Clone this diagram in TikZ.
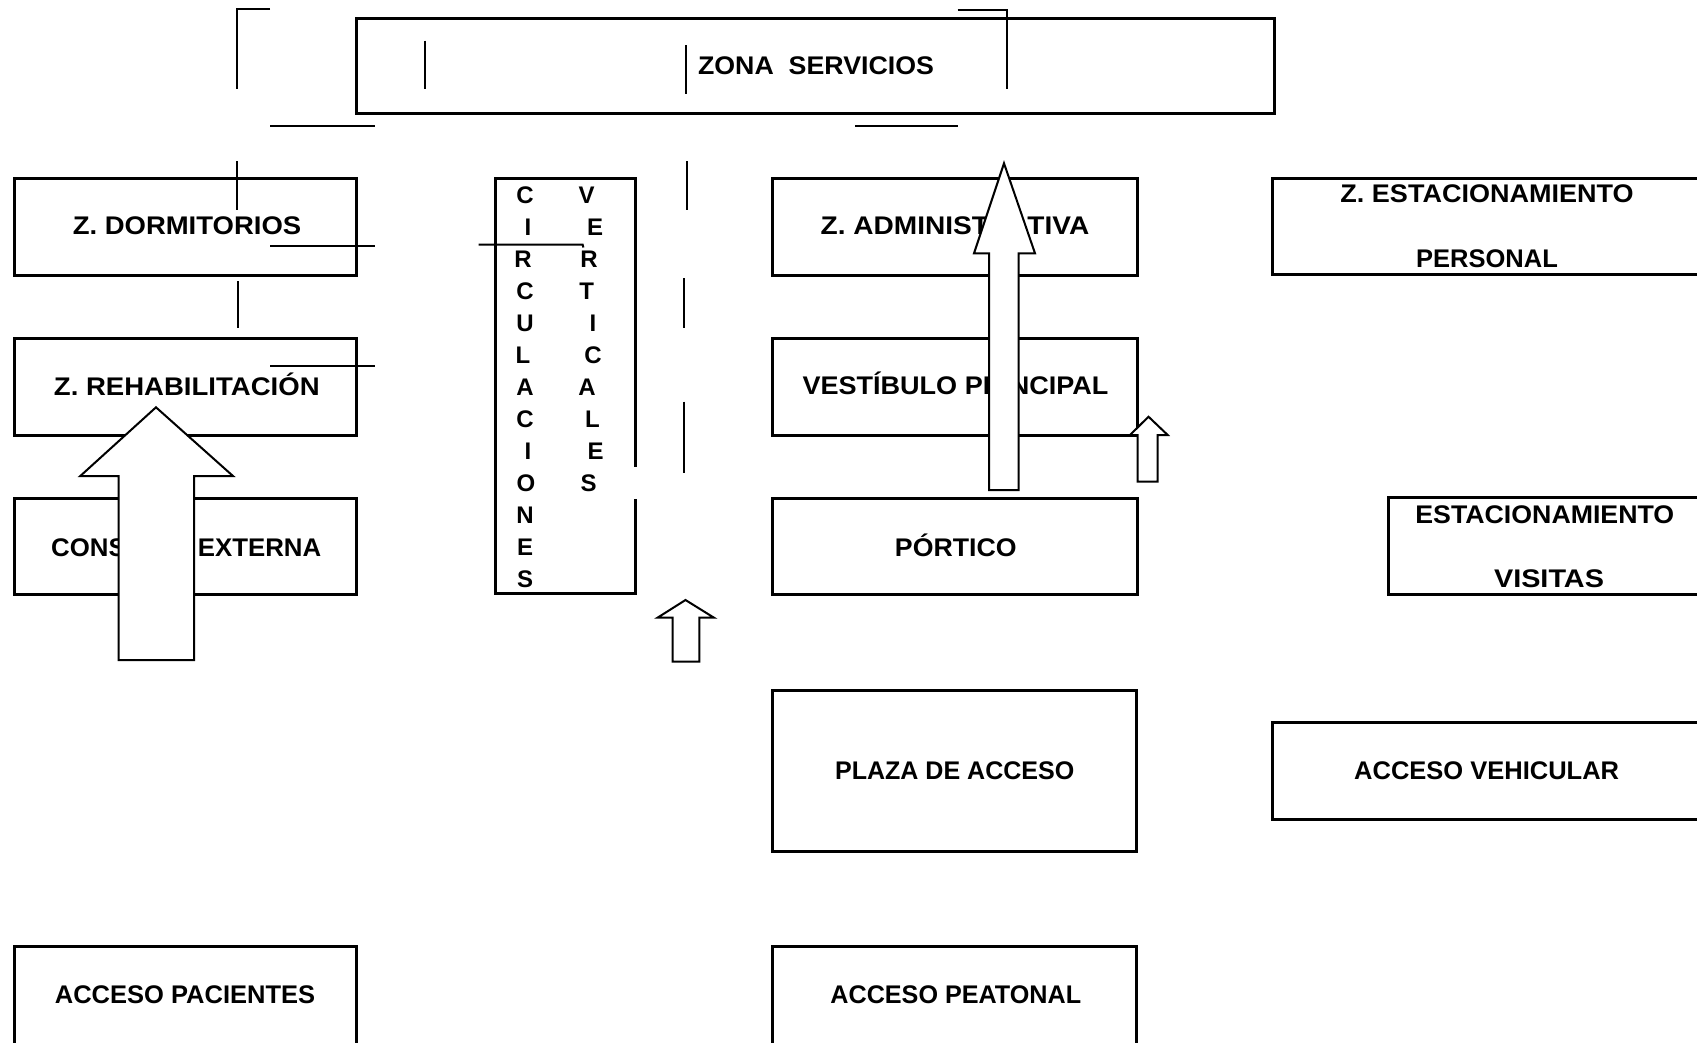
\documentclass[tikz,border=0pt]{standalone}
\usepackage{fontspec}
\setmainfont{Liberation Sans}
\newcommand{\wx}[2]{\scalebox{#1}[1]{#2}}
\begin{document}
\begin{tikzpicture}[x=1pt,y=-1pt,
  box/.style={draw, line width=3pt, anchor=north west, inner sep=0pt, outer sep=0pt},
  lbl/.style={font=\fontsize{25.5}{30}\selectfont\bfseries, inner sep=0pt, text height=18.3pt, text depth=0pt},
  clet/.style={font=\fontsize{24}{28}\selectfont\bfseries, inner sep=0pt, text height=17.2pt, text depth=0pt},
  tick/.style={line width=2pt},
  blockarrow/.style={draw, line width=2pt, fill=white, line join=miter}]
\useasboundingbox (0,0) rectangle (1697,1042);
\clip (0,0) rectangle (1697,1042);

% boxes
\node[box, minimum width=918pt, minimum height=95pt] (zona) at (356,18.5) {};
\node[box, minimum width=341.8pt, minimum height=96.7pt] (dorm) at (14.7,178.3) {};
\node[box, minimum width=341.8pt, minimum height=96.5pt] (rehab) at (14.7,338.5) {};
\node[box, minimum width=341.8pt, minimum height=96pt] (cons) at (14.7,498.5) {};
\node[box, minimum width=341.8pt, minimum height=120pt] (pac) at (14.7,946.7) {};
\node[box, minimum width=365pt, minimum height=96.7pt] (admin) at (772,178.3) {};
\node[box, minimum width=365pt, minimum height=96.7pt] (vest) at (772,338.3) {};
\node[box, minimum width=365pt, minimum height=96pt] (port) at (772,498.3) {};
\node[box, minimum width=364pt, minimum height=161pt] (plaza) at (772.5,690.7) {};
\node[box, minimum width=364pt, minimum height=120pt] (peat) at (772.5,946.7) {};
\node[box, minimum width=450pt, minimum height=95.7pt] (estp) at (1272.8,178.3) {};
\node[box, minimum width=340pt, minimum height=96.6pt] (estv) at (1388,497.7) {};
\node[box, minimum width=450pt, minimum height=96.7pt] (veh) at (1272.3,722.3) {};

% circulation box (open on the right)
\node[inner sep=0pt, minimum width=139.6pt, minimum height=415.2pt, anchor=north west] (circ) at (495.4,178.3) {};
\draw[line width=3pt] (635,466.7) -- (635,178.3) -- (495.4,178.3) -- (495.4,593.5) -- (635,593.5) -- (635,499.3);

% labels
\node[lbl] (tzona) at (816,65.8) {\wx{1.049}{ZONA\ \ SERVICIOS}};
\node[lbl] (tdorm) at (187,225.8) {\wx{1.077}{Z. DORMITORIOS}};
\node[lbl] (trehab) at (186.8,386.7) {\wx{1.08}{Z. REHABILITACIÓN}};
\node[lbl] (tcons) at (186.2,547.2) {\wx{1.012}{CONSULTA EXTERNA}};
\node[lbl] (tpac) at (185,994.2) {ACCESO PACIENTES};
\node[lbl] (tadmin) at (955,225.8) {\wx{1.10}{Z. ADMINISTRATIVA}};
\node[lbl] (tvest) at (955.5,385.8) {\wx{1.06}{VESTÍBULO PRINCIPAL}};
\node[lbl] (tport) at (955.8,547.2) {\wx{1.047}{PÓRTICO}};
\node[lbl] (tplaza) at (954.7,770) {\wx{0.982}{PLAZA DE ACCESO}};
\node[lbl] (tpeat) at (955.8,994) {\wx{0.987}{ACCESO PEATONAL}};
\node[lbl] (testp1) at (1487,193.7) {\wx{1.059}{Z. ESTACIONAMIENTO}};
\node[lbl] (testp2) at (1487,258.3) {PERSONAL};
\node[lbl] (testv1) at (1544.8,514.3) {\wx{1.048}{ESTACIONAMIENTO}};
\node[lbl] (testv2) at (1549,578.8) {\wx{1.13}{VISITAS}};
\node[lbl] (tveh) at (1486.7,770) {ACCESO VEHICULAR};

% vertical letters
\foreach \l/\xx [count=\i] in {C/525,I/528,R/523,C/525,U/525,L/523,A/525,C/525,I/528,O/526,N/525,E/525,S/525}
  \node[clet] (cl\i) at (\xx,{195+32*(\i-1)}) {\l};
\foreach \l/\xx [count=\i] in {V/586.7,E/595,R/589,T/586.7,I/593,C/593,A/587,L/592.5,E/595.5,S/588.5}
  \node[clet] (cr\i) at (\xx,{195+32*(\i-1)}) {\l};

% line fragments
\coordinate (b1) at (270,8.5); \coordinate (b2) at (236.6,8.5); \coordinate (b3) at (236.6,89);
\draw[tick] (b1) -- (b2) -- (b3);
\coordinate (t1a) at (424.5,40.7); \coordinate (t1b) at (424.5,89);
\draw[tick] (t1a) -- (t1b);
\coordinate (t2a) at (686,45); \coordinate (t2b) at (686,94);
\draw[tick] (t2a) -- (t2b);
\coordinate (r1) at (957.5,10); \coordinate (r2) at (1006.5,10); \coordinate (r3) at (1006.5,89.3);
\draw[tick] (r1) -- (r2) -- (r3);
\coordinate (h1a) at (270,126); \coordinate (h1b) at (375,126);
\draw[tick] (h1a) -- (h1b);
\coordinate (h2a) at (855,126); \coordinate (h2b) at (958,126);
\draw[tick] (h2a) -- (h2b);
\coordinate (v1a) at (236.6,161); \coordinate (v1b) at (236.6,210);
\draw[tick] (v1a) -- (v1b);
\coordinate (v2a) at (686.5,161); \coordinate (v2b) at (686.5,210);
\draw[tick] (v2a) -- (v2b);
\coordinate (h3a) at (270,246.3); \coordinate (h3b) at (375,246.3);
\draw[tick] (h3a) -- (h3b);
\coordinate (h4a) at (478.6,244.5); \coordinate (h4b) at (582.6,244.5); \coordinate (h4c) at (583.4,247.5);
\draw[tick] (h4a) -- (h4b) -- (h4c);
\coordinate (v3a) at (237.5,281); \coordinate (v3b) at (237.5,328);
\draw[tick] (v3a) -- (v3b);
\coordinate (v4a) at (684,278); \coordinate (v4b) at (684,328);
\draw[tick] (v4a) -- (v4b);
\coordinate (h5a) at (270,366); \coordinate (h5b) at (375,366);
\draw[tick] (h5a) -- (h5b);
\coordinate (v5a) at (684,401.7); \coordinate (v5b) at (684,473.3);
\draw[tick] (v5a) -- (v5b);

% block arrows
\draw[blockarrow] (156,407.3) -- (233,476) -- (194.2,476) -- (194.2,660) -- (118.5,660) -- (118.5,476) -- (80.3,476) -- cycle;
\draw[blockarrow] (1004,163.3) -- (1035,253.3) -- (1018.5,253.3) -- (1018.5,490) -- (989,490) -- (989,253.3) -- (974,253.3) -- cycle;
\draw[blockarrow] (685.5,600) -- (714,617.7) -- (699.3,617.7) -- (699.3,661.7) -- (672.6,661.7) -- (672.6,617.7) -- (657.5,617.7) -- cycle;
\draw[blockarrow] (1148.5,416.7) -- (1167.7,435) -- (1157.7,435) -- (1157.7,481.7) -- (1137.7,481.7) -- (1137.7,435) -- (1130,435) -- cycle;
\end{tikzpicture}
\end{document}
